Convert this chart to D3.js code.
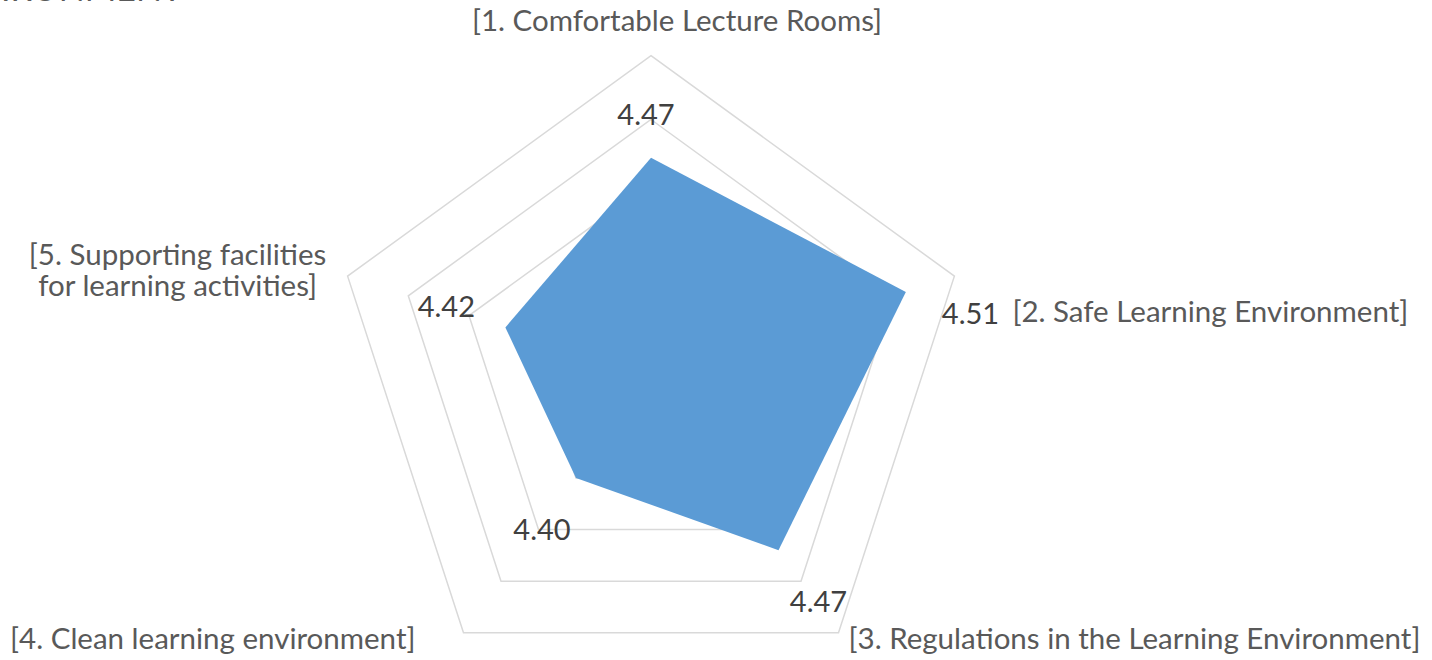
<!DOCTYPE html>
<html>
<head>
<meta charset="utf-8">
<script src="https://cdn.jsdelivr.net/npm/d3@7"></script>
<style>
  html, body { margin: 0; padding: 0; background: #fff; }
  svg { display: block; }
</style>
</head>
<body>
<div id="chart"></div>
<script>
// chart data
const categories = [
  "[1. Comfortable Lecture Rooms]",
  "[2. Safe Learning Environment]",
  "[3. Regulations in the Learning Environment]",
  "[4. Clean learning environment]",
  ["[5. Supporting facilities", "for learning activities]"]
];
const scores = [4.47, 4.51, 4.47, 4.40, 4.42];
const gridTicks = [4.35, 4.40, 4.45, 4.50, 4.55];
const axisMin = 4.30, axisMax = 4.55;

window.onload = function() {
  const width = 1432, height = 660;
  const cx = 651, cy = 374.7, R = 319;
  const font = "Lato, 'Open Sans', sans-serif";

  const svg = d3.select("#chart").append("svg")
    .attr("width", width)
    .attr("height", height);

  const r = d3.scaleLinear().domain([axisMin, axisMax]).range([0, R]);
  const angle = i => i * 2 * Math.PI / categories.length;
  const pt = (i, v) => [cx + r(v) * Math.sin(angle(i)), cy - r(v) * Math.cos(angle(i))];

  // cut-off title at the very top
  svg.append("text")
    .attr("x", 182).attr("y", 1)
    .attr("text-anchor", "end")
    .attr("font-family", font)
    .attr("font-size", 34)
    .attr("fill", "#595959")
    .text("LEARNING ENVIRONMENT");

  // grid pentagons
  const line = d3.line();
  svg.append("g").selectAll("path")
    .data(gridTicks)
    .join("path")
    .attr("d", t => line(categories.map((c, i) => pt(i, t))) + "Z")
    .attr("fill", "none")
    .attr("stroke", "#d9d9d9")
    .attr("stroke-width", 1.5);

  // series area
  svg.append("path")
    .attr("d", line(scores.map((v, i) => pt(i, v))) + "Z")
    .attr("fill", "#5b9bd5");

  // data labels: offsets from the data point
  const valOff = [
    { dx: -5, dy: -33, anchor: "middle" },
    { dx: 36, dy: 32, anchor: "start" },
    { dx: 40, dy: 62, anchor: "middle" },
    { dx: -34, dy: 62, anchor: "middle" },
    { dx: -59, dy: -10, anchor: "middle" }
  ];
  svg.append("g").selectAll("text")
    .data(scores)
    .join("text")
    .attr("x", (v, i) => pt(i, v)[0] + valOff[i].dx)
    .attr("y", (v, i) => pt(i, v)[1] + valOff[i].dy)
    .attr("text-anchor", (v, i) => valOff[i].anchor)
    .attr("font-family", font)
    .attr("font-size", 29)
    .attr("fill", "#404040")
    .text(v => v.toFixed(2));

  // category labels: offsets from the outer vertex
  const catOff = [
    { dx: 26, dy: -25, anchor: "middle" },
    { dx: 58, dy: 46, anchor: "start" },
    { dx: 10, dy: 16, anchor: "start" },
    { dx: -48, dy: 16, anchor: "end" },
    { dx: -170, dy: -11, anchor: "middle" }
  ];
  const cat = svg.append("g").selectAll("text")
    .data(categories)
    .join("text")
    .attr("x", (c, i) => pt(i, axisMax)[0] + catOff[i].dx)
    .attr("y", (c, i) => pt(i, axisMax)[1] + catOff[i].dy)
    .attr("text-anchor", (c, i) => catOff[i].anchor)
    .attr("font-family", font)
    .attr("font-size", 29.5)
    .attr("fill", "#595959");
  cat.each(function(c, i) {
    const lines = Array.isArray(c) ? c : [c];
    const x = pt(i, axisMax)[0] + catOff[i].dx;
    d3.select(this).selectAll("tspan")
      .data(lines)
      .join("tspan")
      .attr("x", x)
      .attr("dy", (l, j) => j === 0 ? 0 : 31)
      .text(l => l);
  });
};
</script>
</body>
</html>
